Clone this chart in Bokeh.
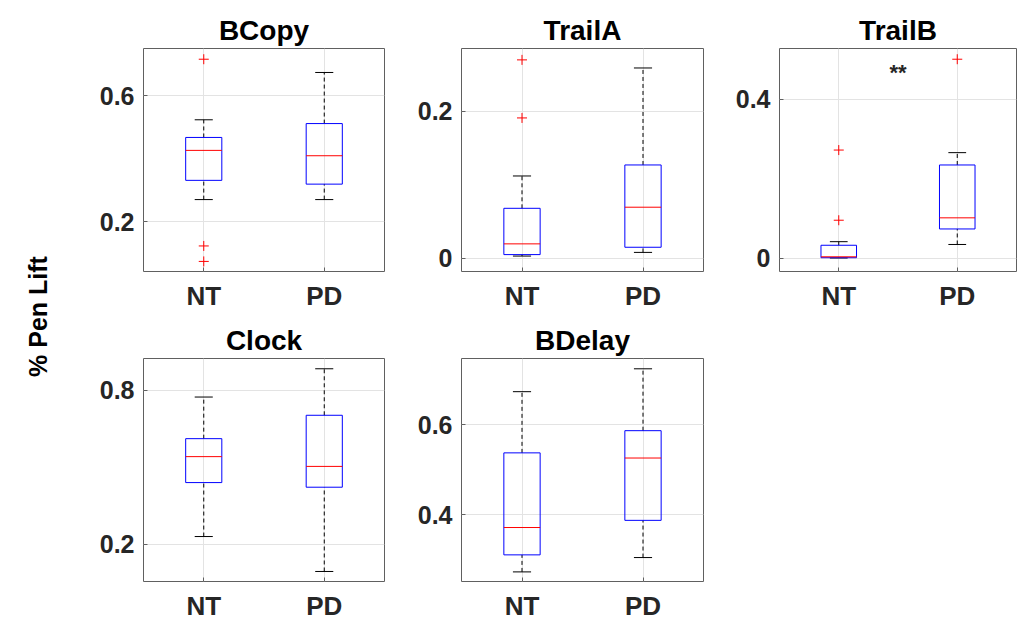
import math
from bokeh.plotting import figure
from bokeh.layouts import row, column
from bokeh.models import Range1d, FixedTicker, ColumnDataSource
from bokeh.core.properties import value
from bokeh.embed import file_html
from bokeh.resources import INLINE

# ---------------- data ----------------
tests = ["BCopy", "TrailA", "TrailB", "Clock", "BDelay"]
groups = ["NT", "PD"]
group_pos = [1, 2]

# box-plot statistics per test: [NT, PD]
lower_whisker = [[0.271, 0.271], [0.003, 0.008], [0.001, 0.035], [0.230, 0.094], [0.272, 0.304]]
q1 = [[0.332, 0.320], [0.005, 0.015], [0.0017, 0.074], [0.440, 0.422], [0.310, 0.387]]
median = [[0.427, 0.410], [0.0196, 0.0695], [0.004, 0.102], [0.541, 0.503], [0.371, 0.526]]
q3 = [[0.468, 0.512], [0.068, 0.127], [0.033, 0.235], [0.611, 0.702], [0.5375, 0.587]]
upper_whisker = [[0.524, 0.674], [0.112, 0.259], [0.042, 0.266], [0.773, 0.883], [0.674, 0.725]]
outliers_nt = [[0.716, 0.124, 0.075], [0.270, 0.191], [0.2725, 0.096], [], []]
outliers_pd = [[], [], [0.501], [], []]

# axis settings per test
y_limits = [(0.043, 0.750), (-0.018, 0.2855), (-0.033, 0.528), (0.055, 0.923), (0.2506, 0.748)]
y_ticks = [[0.2, 0.6], [0.0, 0.2], [0.0, 0.4], [0.2, 0.8], [0.4, 0.6]]
y_tick_labels = [["0.2", "0.6"], ["0", "0.2"], ["0", "0.4"], ["0.2", "0.8"], ["0.4", "0.6"]]
significance = ["", "", "**", "", ""]
significance_y = [None, None, 0.467, None, None]
y_label = "% Pen Lift"

# ---------------- styling ----------------
FONT = "Liberation Sans"
BOX_W = 0.30
CAP_W = 0.15
TXT = "#262626"

# (width, min_border_left, min_border_right) per column
col_geom = [(344, 83, 20), (317, 57, 18), (303, 58, 8)]
TOP_H, TOP_BT, TOP_BB = 318, 48, 47
BOT_H, BOT_BT, BOT_BB = 306, 40, 43


def make_panel(i, col, top_row):
    w, bl, br = col_geom[col]
    h, bt, bb = (TOP_H, TOP_BT, TOP_BB) if top_row else (BOT_H, BOT_BT, BOT_BB)
    lo, hi = y_limits[i]
    p = figure(width=w, height=h, x_range=Range1d(0.5, 2.5), y_range=Range1d(lo, hi),
               output_backend="svg", toolbar_location=None,
               min_border_left=bl, min_border_right=br, min_border_top=bt, min_border_bottom=bb,
               title=tests[i])
    p.title.text_font = FONT
    p.title.text_font_size = "28px"
    p.title.text_font_style = "bold"
    p.title.align = "center"
    p.title.text_color = "black"
    p.title.standoff = 5

    p.outline_line_color = "#606060"
    p.outline_line_width = 1
    p.background_fill_color = "white"
    p.border_fill_color = "white"

    # axes
    p.xaxis.ticker = FixedTicker(ticks=group_pos)
    p.xaxis.major_label_overrides = {gp: g for gp, g in zip(group_pos, groups)}
    p.yaxis.ticker = FixedTicker(ticks=y_ticks[i])
    p.yaxis.major_label_overrides = {t: l for t, l in zip(y_ticks[i], y_tick_labels[i])}
    for ax in (p.xaxis[0], p.yaxis[0]):
        ax.axis_line_color = None
        ax.major_tick_in = 4
        ax.major_tick_out = 0
        ax.major_tick_line_color = "#606060"
        ax.minor_tick_line_color = None
        ax.major_label_text_font = FONT
        ax.major_label_text_font_style = "bold"
        ax.major_label_text_color = TXT
    p.xaxis.major_label_text_font_size = "26px"
    p.xaxis.major_label_standoff = 9
    p.yaxis.major_label_text_font_size = "25px"
    p.yaxis.major_label_standoff = 9

    p.xgrid.ticker = FixedTicker(ticks=group_pos)
    p.ygrid.ticker = FixedTicker(ticks=y_ticks[i])
    for g in (p.xgrid[0], p.ygrid[0]):
        g.grid_line_color = "#e3e3e3"
        g.grid_line_width = 1

    src = ColumnDataSource(dict(
        x=group_pos,
        left=[x - BOX_W / 2 for x in group_pos],
        right=[x + BOX_W / 2 for x in group_pos],
        cl=[x - CAP_W / 2 for x in group_pos],
        cr=[x + CAP_W / 2 for x in group_pos],
        lo=lower_whisker[i], q1=q1[i], med=median[i], q3=q3[i], hi=upper_whisker[i],
    ))
    # whiskers
    p.segment(x0="x", y0="q3", x1="x", y1="hi", source=src, line_color="black",
              line_dash="4 3", line_width=1)
    p.segment(x0="x", y0="lo", x1="x", y1="q1", source=src, line_color="black",
              line_dash="4 3", line_width=1)
    p.segment(x0="cl", y0="hi", x1="cr", y1="hi", source=src, line_color="black", line_width=1)
    p.segment(x0="cl", y0="lo", x1="cr", y1="lo", source=src, line_color="black", line_width=1)
    # boxes
    p.quad(left="left", right="right", bottom="q1", top="q3", source=src,
           fill_color=None, line_color="#0000ff", line_width=1)
    # medians
    p.segment(x0="left", y0="med", x1="right", y1="med", source=src, line_color="#ff0000",
              line_width=1)
    # outliers
    ox = [group_pos[0]] * len(outliers_nt[i]) + [group_pos[1]] * len(outliers_pd[i])
    oy = outliers_nt[i] + outliers_pd[i]
    if oy:
        p.scatter(x=ox, y=oy, marker="cross", size=10, line_color="#ff0000", line_width=1)
    if significance[i]:
        p.text(x=[sum(group_pos) / 2], y=[significance_y[i]], text=[significance[i]],
               text_font=value(FONT), text_font_size="22px", text_font_style="bold",
               text_align="center", text_baseline="middle", text_color=TXT)
    return p


panels = []
layout_pos = [(0, True), (1, True), (2, True), (0, False), (1, False)]
for i, (col, top) in enumerate(layout_pos):
    panels.append(make_panel(i, col, top))

# y-label figure
lab = figure(width=60, height=624, x_range=Range1d(0, 60), y_range=Range1d(0, 624),
             output_backend="svg", toolbar_location=None,
             min_border=0, min_border_left=0, min_border_right=0,
             min_border_top=0, min_border_bottom=0)
lab.axis.visible = False
lab.grid.visible = False
lab.outline_line_color = None
lab.text(x=[37], y=[308], text=[y_label], angle=math.pi / 2,
         text_font=value(FONT), text_font_size="25px", text_font_style="bold",
         text_align="center", text_baseline="middle", text_color="black")

layout = row(lab, column(row(panels[0], panels[1], panels[2]), row(panels[3], panels[4])))

open("out.html", "w").write(file_html(layout, INLINE))
